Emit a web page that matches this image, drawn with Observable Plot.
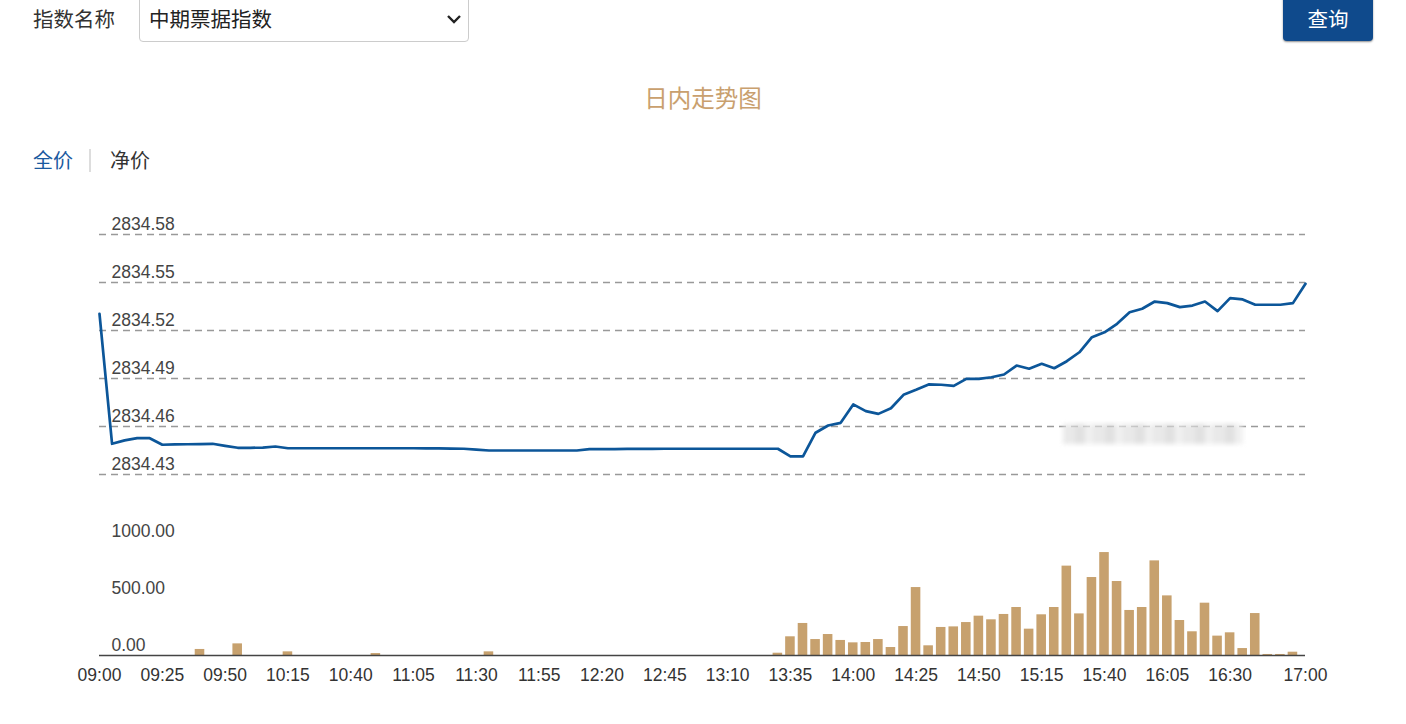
<!DOCTYPE html>
<html><head><meta charset="utf-8">
<script src="https://cdn.jsdelivr.net/npm/d3@7"></script>
<script src="https://cdn.jsdelivr.net/npm/@observablehq/plot@0.6"></script>
<style>
body{margin:0;background:#fff;width:1406px;height:724px;overflow:hidden;position:relative;font-family:"Noto Sans CJK SC","Liberation Sans",sans-serif;}
.abs{position:absolute}
.lbl{left:33px;top:5px;font-size:20.5px;color:#333;line-height:26px}
.sel{left:139px;top:-6px;width:330px;height:48px;border:1px solid #ccc;border-radius:4px;box-sizing:border-box;background:#fff}
.seltxt{left:149px;top:5px;font-size:20.5px;color:#222;line-height:26px}
.chev{left:446px;top:14px}
.btn{left:1283px;top:-6px;width:90px;height:47px;background:#0f4a8c;border-radius:4px;box-shadow:0 1px 2px rgba(0,0,0,.45);color:#fff;font-size:20.5px;line-height:26px;text-align:center;box-sizing:border-box;padding-top:11px}
.title{left:0;width:1406px;top:82px;text-align:center;font-size:23.5px;color:#c9a06e;line-height:30px}
.tab1{left:33px;top:147px;font-size:20px;color:#1a5aa0;line-height:26px}
.sep{left:89px;top:149px;width:2px;height:23px;background:#ddd}
.tab2{left:110px;top:147px;font-size:20px;color:#333;line-height:26px}
.mosaic{left:1063px;top:424px;width:180px;height:20px;background:repeating-linear-gradient(90deg,#e2e2e2 0 12px,#d8d8d8 12px 22px,#ebebeb 22px 30px);filter:blur(2px);opacity:.75}
</style>
</head><body>
<div class="abs lbl">指数名称</div>
<div class="abs sel"></div>
<div class="abs seltxt">中期票据指数</div>
<svg class="abs chev" width="16" height="12"><polyline points="2,2 8,8 14,2" fill="none" stroke="#222" stroke-width="2.4"/></svg>
<div class="abs btn">查询</div>
<div class="abs title">日内走势图</div>
<div class="abs tab1">全价</div>
<div class="abs sep"></div>
<div class="abs tab2">净价</div>
<div id="c1" class="abs" style="left:0;top:200px"></div>
<div id="c2" class="abs" style="left:0;top:500px"></div>
<div class="abs mosaic"></div>
<script>
// ---- data ----
const lineTimes = ["09:00","09:05","09:10","09:15","09:20","09:25","09:30","09:35","09:40","09:45","09:50","09:55",
"10:00","10:05","10:10","10:15","10:20","10:25","10:30","10:35","10:40","10:45","10:50","10:55",
"11:00","11:05","11:10","11:15","11:20","11:25","11:30","11:35","11:40","11:45","11:50","11:55",
"12:00","12:05","12:10","12:15","12:20","12:25","12:30","12:35","12:40","12:45","12:50","12:55",
"13:00","13:05","13:10","13:15","13:20","13:25","13:30","13:35","13:40","13:45","13:50","13:55",
"14:00","14:05","14:10","14:15","14:20","14:25","14:30","14:35","14:40","14:45","14:50","14:55",
"15:00","15:05","15:10","15:15","15:20","15:25","15:30","15:35","15:40","15:45","15:50","15:55",
"16:00","16:05","16:10","16:15","16:20","16:25","16:30","16:35","16:40","16:45","16:50","16:55","17:00"];
const lineValues = [2834.5304,2834.4492,2834.4513,2834.4527,2834.4527,2834.4486,2834.4488,2834.4489,2834.4490,2834.4492,2834.4479,2834.4467,
2834.4467,2834.4468,2834.4475,2834.4464,2834.4464,2834.4464,2834.4464,2834.4464,2834.4464,2834.4464,2834.4464,2834.4464,
2834.4464,2834.4464,2834.4463,2834.4463,2834.4462,2834.4461,2834.4455,2834.4450,2834.4450,2834.4450,2834.4450,2834.4450,
2834.4450,2834.4450,2834.4450,2834.4459,2834.4459,2834.4459,2834.4460,2834.4460,2834.4460,2834.4461,2834.4461,2834.4461,
2834.4461,2834.4461,2834.4461,2834.4461,2834.4461,2834.4461,2834.4461,2834.4413,2834.4413,2834.4561,2834.4606,2834.4623,
2834.4738,2834.4696,2834.4679,2834.4714,2834.4798,2834.4829,2834.4863,2834.4861,2834.4854,2834.4898,2834.4898,2834.4908,
2834.4925,2834.4981,2834.4961,2834.4992,2834.4964,2834.5008,2834.5064,2834.5158,2834.5189,2834.5242,2834.5314,2834.5336,
2834.5381,2834.5371,2834.5346,2834.5356,2834.5381,2834.5321,2834.5402,2834.5394,2834.5361,2834.5361,2834.5361,2834.5371,2834.5492];

const barTimes = ["09:40","09:55","10:15","10:50","11:35","13:30","13:35","13:40","13:45","13:50","13:55",
"14:00","14:05","14:10","14:15","14:20","14:25","14:30","14:35","14:40","14:45","14:50","14:55",
"15:00","15:05","15:10","15:15","15:20","15:25","15:30","15:35","15:40","15:45","15:50","15:55",
"16:00","16:05","16:10","16:15","16:20","16:25","16:30","16:35","16:40","16:45","16:50","16:55"];
const barValues = [53,102,32,17,32,20,164,281,140,184,132,
111,114,140,70,254,596,85,246,251,289,345,313,
360,421,231,357,421,784,365,684,903,649,395,421,
830,523,307,208,459,170,199,61,368,9,9,29];

const priceTicks = [2834.43,2834.46,2834.49,2834.52,2834.55,2834.58];
const volTicks = [0,500,1000];
const xTickLabels = ["09:00","09:25","09:50","10:15","10:40","11:05","11:30","11:55","12:20","12:45","13:10","13:35","14:00","14:25","14:50","15:15","15:40","16:05","16:30","17:00"];
const dayStart = "09:00", dayEnd = "17:00";

// ---- build ----
const T = s => new Date(Date.UTC(2024,0,2,+s.slice(0,2),+s.slice(3)));
const lineData = lineTimes.map((t,i)=>({time:T(t), value:lineValues[i]}));
const HALF = 2.5*60000;
const barData = barTimes.map((t,i)=>({t1:new Date(+T(t)-HALF), t2:new Date(+T(t)+HALF), v:barValues[i]}));
const xDomain = [T(dayStart), T(dayEnd)];
const fmt = d3.utcFormat("%H:%M");
const numStyle = {fontFamily:"'Liberation Sans', Arial, sans-serif", fontSize:"17.5px", color:"#444", background:"transparent"};

const p1 = Plot.plot({
  width:1406, height:290, marginLeft:99, marginRight:101, marginTop:34, marginBottom:16,
  style:numStyle,
  x:{type:"utc", domain:xDomain, axis:null},
  y:{domain:[2834.43,2834.58]},
  marks:[
    Plot.ruleY(priceTicks,{stroke:"#999", strokeWidth:1.3, strokeDasharray:"7,5"}),
    Plot.axisY(priceTicks,{anchor:"left", tickSize:0, tickPadding:0, textAnchor:"start", dx:12, dy:-10, tickFormat:d3.format(".2f"), label:null}),
    Plot.line(lineData,{x:"time", y:"value", stroke:"#0c5699", strokeWidth:2.7})
  ]
});
p1.style.display="block";
document.getElementById("c1").appendChild(p1);

const p2 = Plot.plot({
  width:1406, height:200, marginLeft:99, marginRight:101, marginTop:41, marginBottom:45,
  style:numStyle,
  x:{type:"utc", domain:xDomain},
  y:{domain:[0,1000]},
  marks:[
    Plot.rectY(barData,{x1:"t1", x2:"t2", y:"v", fill:"#c7a16e", insetLeft:1.5, insetRight:1.5}),
    Plot.ruleY([0],{stroke:"#444", strokeWidth:1.5}),
    Plot.axisY(volTicks,{anchor:"left", tickSize:0, tickPadding:0, textAnchor:"start", dx:12, dy:-10, tickFormat:d3.format(".2f"), label:null}),
    Plot.axisX(xTickLabels.map(T),{anchor:"bottom", tickSize:0, tickPadding:13, tickFormat:fmt, label:null, fill:"#333"})
  ]
});
p2.style.display="block";
document.getElementById("c2").appendChild(p2);
</script>
</body></html>
